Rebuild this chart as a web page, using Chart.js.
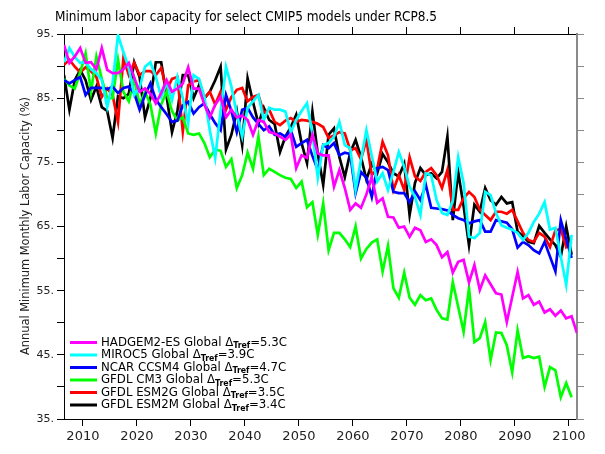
<!DOCTYPE html>
<html><head><meta charset="utf-8">
<script src="https://cdn.jsdelivr.net/npm/chart.js@4.4.0/dist/chart.umd.min.js"></script>
<style>html,body{margin:0;padding:0;background:#fff;overflow:hidden}canvas{display:block}</style>
</head><body>
<canvas id="c" width="605" height="454"></canvas>
<script>
// ---- data (annual minimum monthly labor capacity, %) ----
const FIRST_YEAR = 2006;
const hadgem2es = [
  93.3, 90.5, 91.5, 92.8, 90.5, 90.6, 89.5, 92.8, 89.4, 88.9,
  88.9, 89.5, 90.5, 88.2, 86, 86.5, 85.7, 84.2, 85.8, 87.8,
  86, 86.5, 87.3, 89.8, 86.5, 86.5, 84, 82, 84, 85.2,
  82, 83.2, 82, 82.3, 81.6, 79.3, 81.6, 81.3, 79.7, 79.5,
  79, 78.5, 79.3, 74.1, 76.1, 75.7, 79.3, 76.4, 76.1, 76.1,
  71.2, 73.8, 71, 67.6, 68.6, 67.9, 70, 72.7, 68.7, 69.4,
  66.5, 66.4, 64.8, 65, 63.4, 64.8, 64.4, 62.6, 63, 62.1,
  60.2, 61, 57.8, 59.5, 59.8, 56.3, 59, 55.1, 57.4, 56,
  54.6, 54.4, 50.1, 54, 57.9, 53.8, 54.3, 52.8, 53.3, 51.6,
  52.1, 51.1, 51.9, 50.7, 51, 48.4
];
const miroc5 = [
  90.6, 92.8, 91.4, 90.5, 90.6, 89.5, 88.9, 87.8, 83.6, 87.4,
  94.8, 92.2, 89.7, 85.5, 86.6, 89.9, 90.6, 88.3, 85.2, 87.4,
  84.7, 88.3, 85, 81.1, 88.6, 88, 85.2, 80, 75.7, 83,
  89.9, 86.8, 82.5, 79, 83.5, 84.5, 85.5, 81.6, 83.5, 83.2,
  83.2, 82.9, 79.7, 81.6, 83, 84.2, 79.5, 72.6, 77.7, 78,
  79, 81.3, 77.7, 77.2, 70.7, 75.4, 80, 76, 72, 73.3,
  70.7, 73.5, 76.6, 74.3, 71.2, 69.6, 66.8, 73.3, 73, 69.1,
  67.1, 66.8, 69, 75.8, 71.8, 63.4, 63.2, 64, 70.4, 69.9,
  67.1, 65.2, 64.8, 64.5, 64, 62.9, 64, 65.7, 67, 68.8,
  64.5, 64.8, 60.3, 55.9, 63.7
];
const ncarCcsm4 = [
  87.8, 87.3, 87.8, 88.3, 85.5, 86.6, 86.6, 86.6, 86.4, 86.8,
  85.8, 86.6, 86.8, 85.8, 83.2, 85.5, 87.3, 84.8, 83.6, 82.5,
  81.3, 81.5, 83.9, 84.4, 82.6, 83.6, 84.2, 82.5, 81.1, 80,
  85.5, 83, 79.7, 83.2, 83.5, 82, 81, 80, 80.6, 79.3,
  79.5, 79, 80, 77.4, 78, 78.5, 76, 73.8, 77.7, 77.2,
  78, 76.1, 76.5, 76.3, 70.2, 73.5, 72.6, 69.6, 74.1, 74.3,
  73.8, 70.4, 70.2, 70.2, 68.8, 70.5, 69.1, 71.5, 67.9, 67.8,
  67.7, 67.5, 66.8, 66.3, 66, 65.5, 65.8, 66, 64.2, 64.2,
  66, 65.8, 65.6, 64.6, 61.7, 62.6, 62.1, 61.3, 60.8, 62.6,
  60.3, 58, 66, 63, 60.1
];
const gfdlCm3 = [
  88, 87, 86.5, 89, 92, 86, 91.5, 88, 85, 85,
  91, 86, 84.5, 88, 84, 86, 84, 79.5, 84, 86,
  83, 81.5, 82, 79.5, 79.3, 79.5, 78, 75.8, 77, 76.8,
  74.3, 75.5, 71, 73, 76.5, 74, 79, 73, 74, 73.5,
  73, 72.6, 72.4, 71, 72, 68, 68.8, 63.7, 68.6, 61.3,
  64, 64, 63, 61.8, 65, 60, 61.5, 62.5, 63, 58,
  62, 55.4, 53.9, 57.8, 53.9, 52.8, 54.3, 53.5, 53.8, 52,
  50.7, 50.5, 56.3, 52.5, 48.6, 55.4, 47, 47.6, 50.1, 44.2,
  48.5, 48.4, 46.5, 42.3, 48.8, 44.5, 44.8, 44.5, 44.7, 40,
  43.1, 42.6, 38.4, 40.6, 38.4
];
const gfdlEsm2g = [
  90.2, 91, 89.9, 89, 89.8, 89.2, 88.3, 85.2, 86.5, 85.5,
  81.3, 91.2, 88.6, 90.5, 88.6, 89.2, 89.2, 88.6, 89.7, 86.3,
  88, 88.3, 79.8, 87, 87.6, 87.8, 85, 86, 84, 86,
  83.2, 85.2, 86.3, 86.6, 84.5, 85.2, 85.5, 82.7, 83.2, 81.3,
  80.8, 81.5, 81.9, 81.3, 81.6, 81.5, 81.3, 81, 80.5, 78.8,
  79.2, 79.7, 79.5, 76.9, 77.2, 75.5, 78.5, 73, 74, 78.2,
  76.1, 70.7, 73, 70.7, 75.8, 72.8, 72.1, 73.5, 74.1, 73,
  71, 73.8, 67.6, 67.6, 69.4, 70.4, 69.6, 67.6, 66.8, 66,
  67.3, 67.3, 67, 67.6, 65.8, 64, 62.9, 62.6, 64, 63.4,
  61.8, 64.4, 64.6, 61.8, 62.6
];
const gfdlEsm2m = [
  88.6, 83.2, 87.8, 89.4, 87.8, 84.7, 86.8, 83.6, 83, 78.8,
  85.3, 85, 85.7, 90.6, 88.3, 82, 85, 90.6, 90.6, 85.3,
  79.7, 83, 88.6, 88.6, 85, 87, 85, 86, 87.8, 89.9,
  77, 79.3, 83, 77.7, 88.1, 84.4, 81, 83.5, 81.6, 81,
  76.6, 79, 80.5, 82.4, 78, 74.9, 82.9, 76.3, 71.5, 79.3,
  80.3, 75.8, 72.7, 76.5, 78.5, 75.8, 72.3, 74.8, 73.3, 76.3,
  75, 73.3, 72.8, 74.8, 66.8, 71.8, 74.1, 73, 73.3, 72.5,
  73.5, 79, 66, 73.5, 68.2, 62.1, 68.4, 67.3, 71, 69.1,
  68.4, 69.6, 68.6, 68.8, 64.2, 63.5, 62.6, 62.4, 65.1, 64,
  63, 62.1, 60.3, 65, 60.6
];
const seriesNames = ['HADGEM2-ES Global', 'MIROC5 Global', 'NCAR CCSM4 Global', 'GFDL CM3 Global', 'GFDL ESM2G Global', 'GFDL ESM2M Global'];
const seriesDeltaT = ['=5.3C', '=3.9C', '=4.7C', '=5.3C', '=3.5C', '=3.4C'];
const seriesValues = [hadgem2es, miroc5, ncarCcsm4, gfdlCm3, gfdlEsm2g, gfdlEsm2m];
const seriesColors = ['#ff00ff', '#00ffff', '#0000ff', '#00ff00', '#ff0000', '#000000'];
const xTickYears = [2010, 2020, 2030, 2040, 2050, 2060, 2070, 2080, 2090, 2100];
const yTickValues = [35, 40, 45, 50, 55, 60, 65, 70, 75, 80, 85, 90, 95];
const yLabelled = [35, 45, 55, 65, 75, 85, 95];
const titleText = 'Minimum labor capacity for select CMIP5 models under RCP8.5';
const yTitleText = 'Annual Minimum Monthly Labor Capacity (%)';

const FONT = '"DejaVu Sans", "Liberation Sans", sans-serif';

const datasets = seriesValues.map((vals, k) => ({
  label: seriesNames[k],
  data: vals.map((v, i) => ({ x: FIRST_YEAR + i + 0.5, y: v })),
  borderColor: seriesColors[k],
  backgroundColor: seriesColors[k],
  borderWidth: 2.7,
  pointRadius: 0,
  tension: 0,
  fill: false,
  order: k
}));

function fittedText(ctx, text, x, y, width) {
  const w = ctx.measureText(text).width;
  ctx.save();
  ctx.translate(x, y);
  ctx.scale(width / w, 1);
  ctx.fillText(text, 0, 0);
  ctx.restore();
}

function legendRowWidth(ctx, k) {
  ctx.font = '12px ' + FONT;
  let w = ctx.measureText(seriesNames[k] + ' \u0394').width + ctx.measureText(seriesDeltaT[k]).width;
  ctx.font = 'bold 8px ' + FONT;
  w += ctx.measureText('Tref').width;
  return w;
}

const decor = {
  id: 'decor',
  afterDraw(chart) {
    const ctx = chart.ctx;
    ctx.save();
    ctx.fillStyle = '#000';
    // title
    ctx.font = '14px ' + FONT;
    ctx.textAlign = 'left';
    ctx.textBaseline = 'middle';
    fittedText(ctx, titleText, 55, 17, 382);
    // y title
    ctx.save();
    ctx.translate(26, 226);
    ctx.rotate(-Math.PI / 2);
    ctx.font = '12px ' + FONT;
    ctx.fillStyle = '#222';
    ctx.textAlign = 'left';
    fittedText(ctx, yTitleText, -129, 0, 258);
    ctx.restore();
    // legend
    const rowY0 = 342.5, rowDy = 12.5;
    const sx = 186 / legendRowWidth(ctx, 0);
    for (let k = 0; k < seriesNames.length; k++) {
      const y = rowY0 + k * rowDy;
      ctx.strokeStyle = seriesColors[k];
      ctx.lineWidth = 3;
      ctx.beginPath();
      ctx.moveTo(70, y);
      ctx.lineTo(97, y);
      ctx.stroke();
      ctx.fillStyle = '#000';
      ctx.textBaseline = 'middle';
      ctx.font = '12px ' + FONT;
      const main = seriesNames[k] + ' \u0394';
      let x = 101;
      ctx.save(); ctx.translate(x, y); ctx.scale(sx, 1); ctx.fillText(main, 0, 0); ctx.restore();
      x += ctx.measureText(main).width * sx;
      ctx.font = 'bold 8px ' + FONT;
      ctx.save(); ctx.translate(x, y + 3.5); ctx.scale(sx, 1); ctx.fillText('Tref', 0, 0); ctx.restore();
      x += ctx.measureText('Tref').width * sx;
      ctx.font = '12px ' + FONT;
      ctx.save(); ctx.translate(x, y); ctx.scale(sx, 1); ctx.fillText(seriesDeltaT[k], 0, 0); ctx.restore();
    }
    ctx.restore();
  }
};

const xCommon = {
  type: 'linear', min: FIRST_YEAR + 0.5, max: 2101.5,
  afterBuildTicks: s => { s.ticks = xTickYears.map(v => ({ value: v })); },
  grid: { drawOnChartArea: false, drawTicks: true, tickLength: 7, color: '#000', lineWidth: 1 },
  border: { display: true, color: '#000', width: 1 }
};
const yCommon = {
  type: 'linear', min: 35, max: 95,
  afterBuildTicks: s => { s.ticks = yTickValues.map(v => ({ value: v })); },
  grid: { drawOnChartArea: false, drawTicks: true, tickLength: 7, color: '#000', lineWidth: 1 },
  border: { display: true, color: '#000', width: 1 }
};

new Chart(document.getElementById('c'), {
  type: 'line',
  data: { datasets },
  options: {
    responsive: false, animation: false, devicePixelRatio: 1,
    layout: { padding: 0 },
    plugins: { legend: { display: false }, tooltip: { enabled: false }, title: { display: false } },
    scales: {
      x: Object.assign({}, xCommon, {
        position: 'bottom',
        ticks: { font: { family: FONT, size: 13 }, color: '#222', padding: 3, maxRotation: 0, autoSkip: false,
                 callback: v => String(v) },
        afterFit: s => { s.height = 35; }
      }),
      x2: Object.assign({}, xCommon, {
        position: 'top',
        ticks: { display: false },
        afterFit: s => { s.height = 34; }
      }),
      y: Object.assign({}, yCommon, {
        position: 'left',
        ticks: { font: { family: FONT, size: 11 }, color: '#222', padding: 3, autoSkip: false,
                 callback: v => (yLabelled.includes(v) ? v + '.' : '') },
        afterFit: s => { s.width = 64; }
      }),
      y2: Object.assign({}, yCommon, {
        position: 'right',
        ticks: { display: false },
        grid: { drawOnChartArea: false, drawTicks: true, tickLength: 7, color: '#888', lineWidth: 1 },
        border: { display: true, color: '#8a8a8a', width: 2 },
        afterFit: s => { s.width = 28; }
      })
    }
  },
  plugins: [decor]
});
</script>
</body></html>
